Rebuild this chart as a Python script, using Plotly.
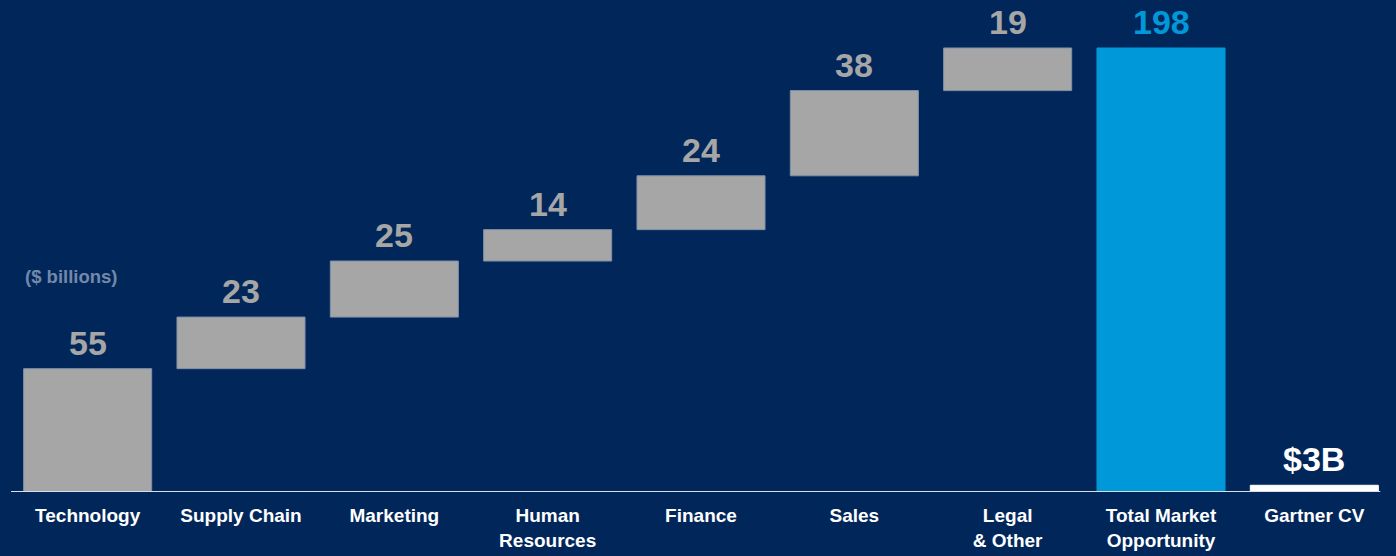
import plotly.graph_objects as go

# Market opportunity by function ($ billions)
categories = ["Technology", "Supply Chain", "Marketing", "Human<br>Resources",
              "Finance", "Sales", "Legal<br>& Other", "Total Market<br>Opportunity",
              "Gartner CV"]
segment_values = [55, 23, 25, 14, 24, 38, 19]
total_value = 198
gartner_cv = 3
value_labels = ["55", "23", "25", "14", "24", "38", "19", "198", "$3B"]

BG = "#01275A"
GRAY = "#A6A6A6"
BLUE = "#0098D8"
WHITE = "#FFFFFF"
FONT = "Liberation Sans, Arial, sans-serif"

# floating bases for the waterfall steps
bases = []
running = 0
for v in segment_values:
    bases.append(running)
    running += v

xs = categories
ys = segment_values + [total_value, gartner_cv]
bs = bases + [0, 0]
colors = [GRAY] * len(segment_values) + [BLUE, WHITE]
line_colors = ["#8090A8"] * len(segment_values) + [BLUE, WHITE]
label_colors = [GRAY] * len(segment_values) + [BLUE, WHITE]

fig = go.Figure()
fig.add_trace(go.Bar(
    x=xs, y=ys, base=bs,
    marker=dict(color=colors, line=dict(color=line_colors, width=1)),
    width=0.835,
    hoverinfo="skip",
))

for x, y, b, t, c in zip(xs, ys, bs, value_labels, label_colors):
    fig.add_annotation(
        x=x, y=y + b, text="<b>%s</b>" % t, showarrow=False,
        yanchor="bottom", yshift=5,
        font=dict(family=FONT, size=34, color=c),
    )

# unit note, placed in paper space
fig.add_annotation(
    xref="paper", yref="paper",
    x=(23 - 11) / (1396 - 16), y=(492 - 276) / 492,
    text="<b>($ billions)</b>", showarrow=False,
    xanchor="left", yanchor="middle",
    font=dict(family=FONT, size=18.5, color="#7489AA"),
)

# baseline
fig.add_shape(type="line", xref="x", yref="y", x0=-0.54, x1=8.43, y0=0, y1=0,
              line=dict(color="#D8DEE6", width=2))

fig.update_layout(
    width=1396, height=556,
    margin=dict(l=11, r=5, t=0, b=64),
    paper_bgcolor=BG, plot_bgcolor=BG,
    showlegend=False,
    xaxis=dict(
        range=[-0.5, 8.5], showgrid=False, zeroline=False, showline=False,
        ticks="", fixedrange=True, ticklabelstandoff=10,
        tickfont=dict(family=FONT, size=19, color=WHITE),
        tickprefix="<b>", ticksuffix="</b>",
    ),
    yaxis=dict(
        range=[0, 219.4], visible=False, showgrid=False, zeroline=False,
        fixedrange=True,
    ),
)

fig.write_html("out.html")
